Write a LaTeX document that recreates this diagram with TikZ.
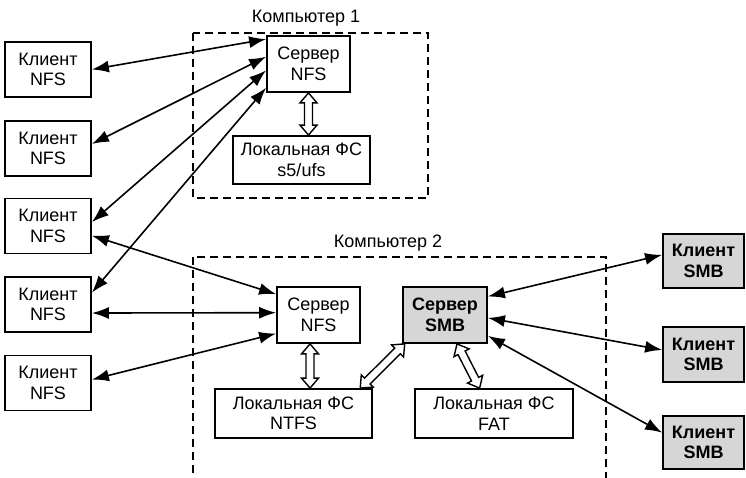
\documentclass[tikz,border=0pt]{standalone}
\usepackage{fontspec}
\setmainfont{Liberation Sans}
\usetikzlibrary{arrows.meta,calc}

% outlined double-headed arrow between two points
\newcommand{\hollowarrow}[2]{%
  \draw[hollowarr]
    (#1) -- ($(#1)!10pt!(#2)!8.5pt!90:(#2)$)
    -- ($(#1)!10pt!(#2)!4pt!90:(#2)$)
    -- ($(#2)!10pt!(#1)!4pt!-90:(#1)$)
    -- ($(#2)!10pt!(#1)!8.5pt!-90:(#1)$)
    -- (#2)
    -- ($(#2)!10pt!(#1)!8.5pt!90:(#1)$)
    -- ($(#2)!10pt!(#1)!4pt!90:(#1)$)
    -- ($(#1)!10pt!(#2)!4pt!-90:(#2)$)
    -- ($(#1)!10pt!(#2)!8.5pt!-90:(#2)$)
    -- cycle;}

\definecolor{boxgray}{gray}{0.84}

\tikzset{
  box/.style={draw, line width=1.8pt, fill=white, align=center, inner sep=0pt,
    font=\fontsize{18}{20.5}\selectfont},
  gbox/.style={box, fill=boxgray, font=\fontsize{18}{20.5}\selectfont\bfseries},
  conn/.style={line width=1.6pt, {Latex[length=17pt,width=12pt]}-{Latex[length=17pt,width=12pt]}},
  hollowarr/.style={line width=1.4pt, fill=white, line join=miter},
  frame/.style={dashed, dash pattern=on 8pt off 5pt, line width=1.5pt},
  title/.style={font=\fontsize{18}{20.5}\selectfont},
}

\begin{document}
\begin{tikzpicture}[x=1pt, y=-1pt]
  \useasboundingbox (0,0) rectangle (746,478);
  \clip (0,0) rectangle (746,478);

  % computer frames and their titles
  \draw[frame] (193,33) rectangle (428,198);
  \draw[frame] (193,257) rectangle (606,500);
  \node[title] (t1) at (306,18) {Компьютер 1};
  \node[title] (t2) at (388,243) {Компьютер 2};

  % NFS clients
  \node[box, minimum width=86pt, minimum height=55pt] (c1) at (48,69.5) {Клиент\\NFS};
  \node[box, minimum width=86pt, minimum height=55pt] (c2) at (48,148.5) {Клиент\\NFS};
  \node[box, minimum width=86pt, minimum height=55pt] (c3) at (48,226) {Клиент\\NFS};
  \node[box, minimum width=86pt, minimum height=55pt] (c4) at (48,304.5) {Клиент\\NFS};
  \node[box, minimum width=86pt, minimum height=55pt] (c5) at (48,383) {Клиент\\NFS};

  % computer 1
  \node[box, minimum width=83pt, minimum height=56pt] (s1) at (308.5,64) {Сервер\\NFS};
  \node[box, minimum width=137pt, minimum height=48pt] (fs1) at (301.5,160) {Локальная ФС\\s5/ufs};

  % computer 2
  \node[box, minimum width=83pt, minimum height=56pt] (s2) at (318.5,315) {Сервер\\NFS};
  \node[gbox, minimum width=84pt, minimum height=56pt] (smb) at (445,315) {Сервер\\SMB};
  \node[box, minimum width=157pt, minimum height=49pt] (ntfs) at (293.5,413.5) {Локальная ФС\\NTFS};
  \node[box, minimum width=158pt, minimum height=49pt] (fat) at (494,413.5) {Локальная ФС\\FAT};

  % SMB clients
  \node[gbox, minimum width=81pt, minimum height=54pt] (m1) at (703.5,261) {Клиент\\SMB};
  \node[gbox, minimum width=81pt, minimum height=55pt] (m2) at (703.5,354.5) {Клиент\\SMB};
  \node[gbox, minimum width=81pt, minimum height=53pt] (m3) at (703.5,442.5) {Клиент\\SMB};

  % attachment points
  \coordinate (s1a) at ($(s1.north west)!0.07!(s1.south west)$);
  \coordinate (s1b) at ($(s1.north west)!0.375!(s1.south west)$);
  \coordinate (s1c) at ($(s1.north west)!0.61!(s1.south west)$);
  \coordinate (s1d) at ($(s1.north west)!0.91!(s1.south west)$);
  \coordinate (s2a) at ($(s2.north west)!0.14!(s2.south west)$);
  \coordinate (s2b) at ($(s2.north west)!0.46!(s2.south west)$);
  \coordinate (s2c) at ($(s2.north west)!0.82!(s2.south west)$);
  \coordinate (c3a) at ($(c3.north east)!0.43!(c3.south east)$);
  \coordinate (c3b) at ($(c3.north east)!0.67!(c3.south east)$);
  \coordinate (c4a) at ($(c4.north east)!0.29!(c4.south east)$);
  \coordinate (c4b) at ($(c4.north east)!0.65!(c4.south east)$);
  \coordinate (c2a) at ($(c2.north east)!0.42!(c2.south east)$);
  \coordinate (c5a) at ($(c5.north east)!0.44!(c5.south east)$);
  \coordinate (ma) at ($(smb.north east)!0.18!(smb.south east)$);
  \coordinate (mb) at ($(smb.north east)!0.55!(smb.south east)$);
  \coordinate (mc) at ($(smb.north east)!0.86!(smb.south east)$);
  \coordinate (m1a) at ($(m1.north west)!0.39!(m1.south west)$);
  \coordinate (m2a) at ($(m2.north west)!0.42!(m2.south west)$);
  \coordinate (m3a) at ($(m3.north west)!0.32!(m3.south west)$);

  % NFS connections to computer 1
  \draw[conn] (c1.east) -- (s1a);
  \draw[conn] (c2a) -- (s1b);
  \draw[conn] (c3a) -- (s1c);
  \draw[conn] (c4a) -- (s1d);

  % NFS connections to computer 2
  \draw[conn] (c3b) -- (s2a);
  \draw[conn] (c4b) -- (s2b);
  \draw[conn] (c5a) -- (s2c);

  % SMB connections
  \draw[conn] (ma) -- (m1a);
  \draw[conn] (mb) -- (m2a);
  \draw[conn] (mc) -- (m3a);

  % server to local file system links
  \coordinate (h1a) at (s1.south);
  \coordinate (h1b) at (s1.south |- fs1.north);
  \hollowarrow{h1a}{h1b}
  \coordinate (h2a) at ($(s2.south west)!0.4!(s2.south east)$);
  \coordinate (h2b) at (h2a |- ntfs.north);
  \hollowarrow{h2a}{h2b}
  \coordinate (h3a) at ($(smb.south west)!0.03!(smb.south east)$);
  \coordinate (h3b) at ($(ntfs.north west)!0.92!(ntfs.north east)$);
  \hollowarrow{h3a}{h3b}
  \coordinate (h4a) at ($(smb.south west)!0.64!(smb.south east)$);
  \coordinate (h4b) at ($(fat.north west)!0.41!(fat.north east)$);
  \hollowarrow{h4a}{h4b}
\end{tikzpicture}
\end{document}
